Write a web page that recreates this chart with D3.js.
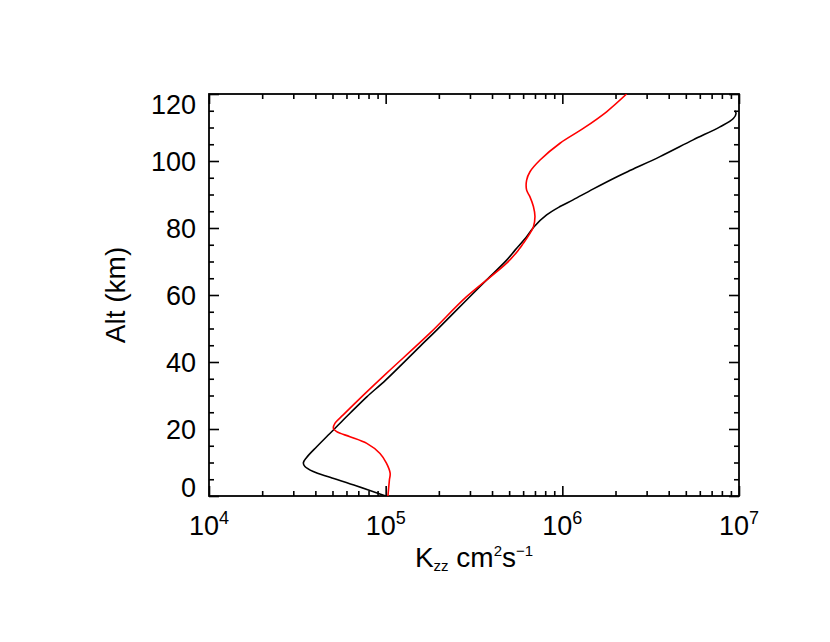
<!DOCTYPE html>
<html>
<head>
<meta charset="utf-8">
<script src="https://cdn.jsdelivr.net/npm/d3@7"></script>
<style>
  body { margin: 0; background: #fff; }
  text { font-family: "Liberation Sans", Arial, Helvetica, sans-serif; fill: #000; }
</style>
</head>
<body>
<svg id="chart" width="830" height="642"></svg>
<script>
// Kzz profiles (altitude in km, Kzz in cm^2/s)
const altBlack = [0, 3.0, 5.6, 7.3, 8.8, 9.9, 11.5, 14.7, 17.7, 19.7, 22.7, 24.7, 29.6, 34.6, 44.6, 49.6,
  58.5, 64.5, 70.4, 73.4, 77.4, 80.4, 83.9, 86.4, 88.4, 91.6, 95.3, 97.3, 101.3, 106.3, 110.2, 112.7, 114.2, 115.0];
const kBlack = [1.00e5, 6.86e4, 4.84e4, 3.89e4, 3.49e4, 3.42e4, 3.57e4, 4.07e4, 4.63e4, 5.06e4, 5.75e4, 6.28e4,
  7.82e4, 1.00e5, 1.56e5, 1.95e5, 2.87e5, 3.73e5, 4.84e5, 5.40e5, 6.28e5, 6.92e5, 8.15e5, 9.70e5, 1.15e6,
  1.49e6, 2.04e6, 2.45e6, 3.57e6, 5.50e6, 7.80e6, 9.29e6, 9.62e6, 9.48e6];

const altRed = [0, 2.5, 4.8, 6.8, 9.8, 12.7, 15.7, 17.7, 19.2, 20.2, 21.7, 24.2, 30.1, 36.6, 48.6, 59.5,
  69.5, 73.4, 75.4, 78.4, 80.4, 83.4, 86.4, 89.3, 91.3, 94.3, 96.8, 100.3, 105.3, 109.8, 114.7, 120];
const kRed = [1.03e5, 1.04e5, 1.05e5, 1.06e5, 1.01e5, 9.29e4, 7.82e4, 6.28e4, 5.28e4, 5.06e4, 5.16e4, 5.75e4,
  7.48e4, 1.01e5, 1.78e5, 2.87e5, 4.84e5, 5.64e5, 6.01e5, 6.56e5, 6.86e5, 7.00e5, 6.86e5, 6.56e5, 6.28e5,
  6.28e5, 6.56e5, 7.48e5, 9.70e5, 1.32e6, 1.78e6, 2.31e6];

// axis ticks
const xMajor = [1e4, 1e5, 1e6, 1e7];
const yMajor = [0, 20, 40, 60, 80, 100, 120];

const pLeft = 209, pRight = 739, pTop = 94, pBottom = 496;

const svg = d3.select('#chart');

const x = d3.scaleLog().domain([1e4, 1e7]).range([pLeft, pRight]);
const y = d3.scaleLinear().domain([0, 120]).range([pBottom, pTop]);

// minor ticks: 2..9 in each decade, every 5 km
const xMinor = [];
xMajor.slice(0, -1).forEach(d => { for (let m = 2; m <= 9; m++) xMinor.push(d * m); });
const yMinor = d3.range(0, 121, 5).filter(v => v % 20 !== 0);

function tickAxis(axisFn, scale, values, size, transform) {
  const g = svg.append('g')
    .attr('transform', transform)
    .call(axisFn(scale).tickValues(values).tickSize(size).tickSizeOuter(0).tickFormat(''));
  g.select('.domain').remove();
  g.selectAll('line').attr('stroke', '#000').attr('stroke-width', 1.6);
}

// ticks point inwards on all four sides
tickAxis(d3.axisTop, x, xMajor, 10, `translate(0,${pBottom})`);
tickAxis(d3.axisTop, x, xMinor, 5, `translate(0,${pBottom})`);
tickAxis(d3.axisBottom, x, xMajor, 10, `translate(0,${pTop})`);
tickAxis(d3.axisBottom, x, xMinor, 5, `translate(0,${pTop})`);
tickAxis(d3.axisRight, y, yMajor, 10, `translate(${pLeft},0)`);
tickAxis(d3.axisRight, y, yMinor, 5, `translate(${pLeft},0)`);
tickAxis(d3.axisLeft, y, yMajor, 10, `translate(${pRight},0)`);
tickAxis(d3.axisLeft, y, yMinor, 5, `translate(${pRight},0)`);

svg.append('rect')
  .attr('x', pLeft).attr('y', pTop)
  .attr('width', pRight - pLeft).attr('height', pBottom - pTop)
  .attr('fill', 'none').attr('stroke', '#000').attr('stroke-width', 1.8);

// curves
svg.append('clipPath').attr('id', 'plot-clip')
  .append('rect').attr('x', pLeft).attr('y', pTop)
  .attr('width', pRight - pLeft).attr('height', pBottom - pTop);

const line = d3.line()
  .x(d => x(d[1]))
  .y(d => y(d[0]))
  .curve(d3.curveCatmullRom.alpha(0.5));

svg.append('path')
  .datum(d3.zip(altBlack, kBlack))
  .attr('clip-path', 'url(#plot-clip)')
  .attr('fill', 'none').attr('stroke', '#000').attr('stroke-width', 1.6)
  .attr('d', line);

svg.append('path')
  .datum(d3.zip(altRed, kRed))
  .attr('clip-path', 'url(#plot-clip)')
  .attr('fill', 'none').attr('stroke', '#ff0000').attr('stroke-width', 1.6)
  .attr('d', line);

// y tick labels, end labels kept inside the axis span
svg.append('g').selectAll('text')
  .data(yMajor)
  .join('text')
  .attr('x', pLeft - 13)
  .attr('y', d => Math.min(pBottom - 9, Math.max(pTop + 10, y(d))))
  .attr('dy', '0.36em')
  .attr('text-anchor', 'end')
  .attr('font-size', 27)
  .text(d => d);

// x tick labels 10^n
const xl = svg.append('g').selectAll('text')
  .data(xMajor)
  .join('text')
  .attr('x', d => x(d))
  .attr('y', pBottom + 39)
  .attr('text-anchor', 'middle')
  .attr('font-size', 27);
xl.append('tspan').text('10');
xl.append('tspan').attr('font-size', 18).attr('dy', -11).text(d => Math.round(Math.log10(d)));

// axis titles
const xt = svg.append('text')
  .attr('x', (pLeft + pRight) / 2)
  .attr('y', 567)
  .attr('text-anchor', 'middle')
  .attr('font-size', 28);
xt.append('tspan').text('K');
xt.append('tspan').attr('font-size', 15).attr('dy', 4).text('zz');
xt.append('tspan').attr('dy', -4).text(' cm');
xt.append('tspan').attr('font-size', 15).attr('dy', -11).text('2');
xt.append('tspan').attr('dy', 11).text('s');
xt.append('tspan').attr('font-size', 15).attr('dy', -11).text('\u22121');

svg.append('text')
  .attr('transform', `translate(125,${(pTop + pBottom) / 2}) rotate(-90)`)
  .attr('text-anchor', 'middle')
  .attr('font-size', 28)
  .text('Alt (km)');
</script>
</body>
</html>
